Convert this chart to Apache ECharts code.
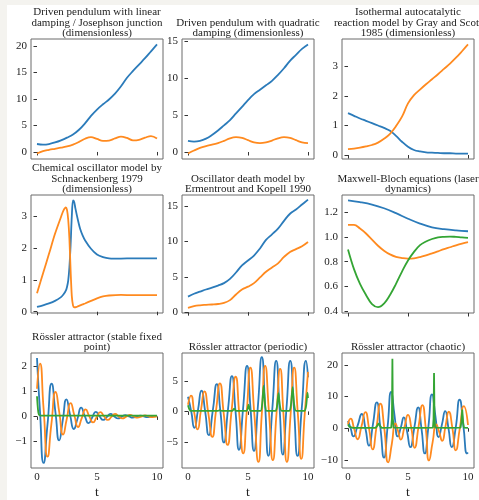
<!DOCTYPE html>
<html><head><meta charset="utf-8">
<script src="https://cdn.jsdelivr.net/npm/echarts@6/dist/echarts.min.js"></script>
<style>html,body{margin:0;padding:0;background:#fff}#c{width:479px;height:500px}</style>
</head><body><div id="c"></div>
<script>
// ---------- data ----------
const t05 = [0,0.5,1,1.5,2,2.5,3,3.5,4,4.5,5,5.5,6,6.5,7,7.5,8,8.5,9,9.5,10];
const t1 = [0,1,2,3,4,5,6,7,8,9,10];
const xTicks = [0,5,10];

// 1 Driven pendulum linear damping
const p1_blue = [1.5,1.4,1.5,1.8,2.2,2.7,3.3,4.2,5.4,6.8,8.0,9.0,9.9,11.0,12.4,14.0,15.3,16.5,17.7,19.0,20.3];
const p1_orange = [-0.3,0.15,0.4,0.6,0.8,1.05,1.4,1.9,2.5,2.8,2.45,2.1,2.15,2.55,2.9,2.65,2.2,2.3,2.7,3.0,2.55];
const p1_yticks = [0,5,10,15,20];
// 2 Driven pendulum quadratic damping
const p2_blue = [1.5,1.4,1.5,1.8,2.3,2.9,3.6,4.3,5.2,6.1,7.0,7.8,8.4,9.0,9.6,10.4,11.3,12.3,13.1,13.9,14.5];
const p2_orange = [-0.2,0.2,0.55,0.8,1.0,1.2,1.5,1.85,2.0,1.9,1.6,1.3,1.2,1.3,1.55,1.85,2.0,1.9,1.6,1.3,1.2];
const p2_yticks = [0,5,10,15];
// 3 Gray-Scott
const p3_blue = [1.42,1.33,1.24,1.16,1.08,1.0,0.92,0.82,0.65,0.45,0.28,0.17,0.12,0.09,0.08,0.07,0.06,0.06,0.05,0.05,0.05];
const p3_orange = [0.2,0.22,0.25,0.29,0.34,0.42,0.55,0.72,0.98,1.3,1.75,2.03,2.22,2.4,2.57,2.74,2.92,3.1,3.3,3.52,3.75];
const p3_yticks = [0,1,2,3];
// 4 Schnackenberg
const p4_t = [0,0.5,1,1.5,2,2.2,2.4,2.5,2.6,2.7,2.8,2.9,3.0,3.1,3.2,3.4,3.6,3.8,4,4.5,5,5.5,6,7,8,9,10];
const p4_blue = [0.15,0.2,0.26,0.34,0.46,0.54,0.66,0.78,0.98,1.4,2.1,3.0,3.5,3.45,3.25,2.9,2.6,2.4,2.25,1.98,1.8,1.72,1.68,1.67,1.68,1.68,1.68];
const p4_orange = [0.58,1.2,1.82,2.45,2.98,3.18,3.28,3.2,2.9,2.3,1.3,0.5,0.2,0.14,0.14,0.17,0.2,0.23,0.26,0.34,0.42,0.48,0.51,0.53,0.52,0.52,0.52];
const p4_yticks = [0,1,2,3];
// 5 Oscillator death
const p5_blue = [2.2,2.6,2.9,3.2,3.45,3.75,4.1,4.7,5.6,6.6,7.3,8.0,9.0,10.2,11.0,11.8,12.9,13.9,14.5,15.2,15.9];
const p5_orange = [0.6,0.85,0.97,1.03,1.08,1.15,1.3,1.7,2.5,3.2,3.6,4.1,4.9,5.7,6.3,6.9,7.8,8.5,8.9,9.3,9.9];
const p5_yticks = [0,5,10,15];
// 6 Maxwell-Bloch
const p6_blue = [1.30,1.285,1.265,1.235,1.195,1.15,1.11,1.08,1.065,1.055,1.048];
const p6_orange = [1.10,1.10,1.07,1.03,0.98,0.93,0.89,0.86,0.84,0.83,0.825,0.828,0.838,0.852,0.868,0.885,0.902,0.918,0.934,0.948,0.96];
const p6_green = [0.90,0.74,0.62,0.53,0.455,0.43,0.46,0.53,0.62,0.72,0.81,0.88,0.935,0.965,0.985,0.998,1.003,1.005,1.002,0.998,0.995];
const p6_yticks = [0.4,0.6,0.8,1.0,1.2];
// 7 Rossler stable
const p7_tb = [0,0.25,0.55,0.88,1.22,1.54,1.85,2.15,2.45,2.76,3.07,3.38,3.68,3.99,4.3,4.6,4.9,5.21,5.52,5.83,6.13,6.44,6.75,7.06,7.36,7.67,7.98,8.29,8.6,8.9,9.2,9.51,9.82,10];
const p7_blue = [2.32,0.2,-1.85,-0.3,1.3,0.15,-0.95,-0.15,0.68,0.05,-0.5,-0.08,0.35,0.0,-0.27,-0.04,0.18,0,-0.14,-0.02,0.1,0,-0.08,-0.01,0.05,0,-0.05,-0.01,0.03,0,-0.03,0,0.02,0.01];
const p7_to = [0,0.25,0.55,0.88,1.2,1.55,1.86,2.17,2.48,2.8,3.11,3.42,3.73,4.05,4.36,4.67,4.97,5.28,5.59,5.9,6.2,6.5,6.81,7.12,7.43,7.75,8.06,8.37,8.68,9.0,9.3,9.6,10];
const p7_orange = [1.1,2.1,0.3,-1.6,-0.3,0.97,0.15,-0.72,-0.1,0.53,0.05,-0.42,-0.07,0.28,0.0,-0.24,-0.03,0.17,0,-0.14,-0.02,0.1,0,-0.08,-0.01,0.06,0,-0.05,-0.01,0.04,0,-0.03,0.0];
const p7_tg = [0,0.05,0.1,0.15,0.2,0.3,0.5,10];
const p7_green = [0.8,0.45,0.2,0.09,0.05,0.03,0.03,0.03];
const p7_yticks = [-1,0,1,2];
// 8 Rossler periodic
const p8_tb = [0,0.27,0.53,0.83,1.12,1.43,1.73,2.07,2.4,2.7,2.99,3.33,3.66,3.96,4.25,4.59,4.92,5.21,5.5,5.83,6.15,6.43,6.7,7.03,7.35,7.63,7.9,8.21,8.52,8.83,9.13,9.48,9.83,10];
const p8_blue = [2.4,0,-2.7,0.2,3.4,0,-3.9,0.2,4.5,0,-5.1,0.3,5.8,0,-6.3,0.5,7.5,0.5,-6.5,1.0,8.9,0.8,-7.3,0.5,8.3,0.6,-7.1,0.6,8.3,0.5,-7.3,0.5,8.3,5.6];
const p8_to = [0,0.25,0.52,0.8,1.08,1.37,1.7,2.02,2.34,2.66,2.98,3.3,3.63,3.97,4.28,4.6,4.9,5.2,5.53,5.87,6.15,6.43,6.75,7.07,7.37,7.68,7.96,8.24,8.55,8.85,9.15,9.44,9.72,10];
const p8_orange = [1.1,2.6,-0.2,-2.95,0.2,3.3,-0.4,-4.2,0.2,4.6,-0.4,-5.5,0.1,5.7,-0.6,-6.9,0.1,7.2,-0.5,-8.3,-0.4,7.5,-0.2,-8.0,-0.5,7.0,-0.6,-8.3,-0.5,7.2,-0.3,-7.8,-0.6,6.5];
const p8_tg = [0,0.08,0.18,0.3,2.5,2.65,2.8,3.7,3.85,4.0,4.9,5.05,5.2,6.05,6.18,6.3,6.42,6.55,7.3,7.42,7.54,7.66,7.8,8.45,8.58,8.72,8.85,9.0,9.72,9.85,9.96,10];
const p8_green = [1.0,0.5,0.15,0.08,0.08,0.2,0.08,0.1,0.45,0.1,0.1,1.1,0.1,0.1,1.2,4.2,1.2,0.1,0.1,0.9,3.0,0.9,0.1,0.1,1.1,4.0,1.1,0.1,0.1,1.0,3.1,2.2];
const p8_yticks = [-5,0,5];
// 9 Rossler chaotic
const p9_tb = [0,0.22,0.45,0.8,1.15,1.45,1.75,2.07,2.4,2.7,3.0,3.3,3.6,3.88,4.15,4.4,4.65,4.92,5.2,5.52,5.85,6.12,6.4,6.7,7.0,7.28,7.55,7.82,8.1,8.37,8.65,8.97,9.3,9.62,9.92,10];
const p9_blue = [2.3,0,-2.6,0.8,4.5,0,-5.5,1.0,8.2,0,-9.3,0.5,11.5,4.0,-2.6,0.2,3.4,-1.0,-6.0,0,6.6,0,-8.0,0.5,10.7,4.0,-2.8,1.0,5.4,0,-6.0,0,9.0,0.5,-8.0,-7.7];
const p9_to = [0,0.22,0.5,0.8,1.12,1.45,1.75,2.05,2.38,2.7,3.02,3.35,3.65,3.95,4.18,4.4,4.7,5.0,5.28,5.55,5.88,6.2,6.48,6.75,7.05,7.35,7.6,7.85,8.12,8.4,8.7,8.98,9.32,9.65,10];
const p9_orange = [1.2,3.0,0,-3.5,0.5,5.1,0,-6.7,0.5,7.8,0,-10.8,-5.0,1.5,-1.0,-3.6,0.3,4.2,0,-6.2,0.5,7.3,0,-10.2,-4.5,1.2,-1.2,-4.0,0.5,5.2,0,-7.0,0,7.0,1.0];
const p9_tg = [0,0.1,0.25,0.4,2.3,2.45,2.55,2.65,2.8,3.6,3.66,3.7,3.74,3.8,5.85,6.0,6.15,7.08,7.13,7.17,7.21,7.26,8.15,8.25,8.35,9.38,9.45,9.52,9.59,9.66,10];
const p9_green = [1.2,0.5,0.15,0.08,0.1,0.8,1.6,0.8,0.1,0.2,3.0,22.0,3.0,0.2,0.1,0.5,0.1,0.2,3.0,17.5,3.0,0.2,0.08,0.4,0.08,0.2,2.0,5.9,2.0,0.2,0.08];
const p9_yticks = [-10,0,10,20];

const titles = [
  'Driven pendulum with linear\ndamping / Josephson junction\n(dimensionless)',
  'Driven pendulum with quadratic\ndamping (dimensionless)',
  'Isothermal autocatalytic\nreaction model by Gray and Scott\n1985 (dimensionless)',
  'Chemical oscillator model by\nSchnackenberg 1979\n(dimensionless)',
  'Oscillator death model by\nErmentrout and Kopell 1990',
  'Maxwell-Bloch equations (laser\ndynamics)',
  'Rössler attractor (stable fixed\npoint)',
  'Rössler attractor (periodic)',
  'Rössler attractor (chaotic)'
];

// ---------- build ----------
const FONT = 'Liberation Serif';
const COL = ['#2b7bba', '#ff8a1f', '#34a534'];
const lefts = [31, 182, 342], W = 132;
const tops = [39, 195, 353], heights = [120, 118, 119];
const titleBottoms = [39, 195, 353];
const zip = (t, y) => t.map((v, i) => [v, y[i]]);
const minusFmt = v => v < 0 ? '\u2212' + (-v) : String(v);

const panels = [
  {ymin:-1.33, ymax:21.33, yt:p1_yticks, s:[[t05,p1_blue,0.4],[t05,p1_orange,0.4]]},
  {ymin:-0.94, ymax:15.24, yt:p2_yticks, s:[[t05,p2_blue,0.4],[t05,p2_orange,0.4]]},
  {ymin:-0.135, ymax:3.935, yt:p3_yticks, s:[[t05,p3_blue,0.4],[t05,p3_orange,0.4]]},
  {ymin:-0.04, ymax:3.67, yt:p4_yticks, s:[[p4_t,p4_blue,0.3],[p4_t,p4_orange,0.3]]},
  {ymin:-0.12, ymax:16.55, yt:p5_yticks, s:[[t05,p5_blue,0.4],[t05,p5_orange,0.4]]},
  {ymin:0.383, ymax:1.343, yt:p6_yticks, fmt:v=>v.toFixed(1), s:[[t1,p6_blue,0.4],[t05,p6_orange,0.4],[t05,p6_green,0.4]]},
  {ymin:-2.05, ymax:2.52, yt:p7_yticks, s:[[p7_tb,p7_blue,0.6],[p7_to,p7_orange,0.6],[p7_tg,p7_green,0.2]]},
  {ymin:-9.3, ymax:9.6, yt:p8_yticks, s:[[p8_tb,p8_blue,0.6],[p8_to,p8_orange,0.6],[p8_tg,p8_green,0.2]]},
  {ymin:-12.6, ymax:23.8, yt:p9_yticks, s:[[p9_tb,p9_blue,0.6],[p9_to,p9_orange,0.6],[p9_tg,p9_green,0]]}
];

const grid = [], xAxis = [], yAxis = [], series = [];
const graphic = [
  {type:'rect', shape:{x:0,y:0,width:7,height:500}, style:{fill:'#f4f3ef'}, z:-10},
  {type:'rect', shape:{x:0,y:0,width:479,height:5}, style:{fill:'#f4f3ef'}, z:-10}
];
panels.forEach((p, i) => {
  const r = Math.floor(i / 3), c = i % 3;
  const bottomRow = r === 2;
  grid.push({left: lefts[c], top: tops[r], width: W, height: heights[r], show: true,
    borderColor: '#6a6a6a', borderWidth: 1, backgroundColor: 'transparent'});
  xAxis.push({type:'value', gridIndex:i, min:-0.5, max:10.5,
    axisLine:{show:false}, splitLine:{show:false},
    axisTick:{show:true, customValues:xTicks, length:3.5, lineStyle:{color:'#333', width:1}},
    axisLabel:{show:bottomRow, customValues:xTicks, fontFamily:FONT, fontSize:11, color:'#222', margin:4},
    name: bottomRow ? 't' : '', nameLocation:'middle', nameGap:17,
    nameTextStyle:{fontFamily:FONT, fontSize:13.5, color:'#222'}});
  yAxis.push({type:'value', gridIndex:i, min:p.ymin, max:p.ymax,
    axisLine:{show:false}, splitLine:{show:false},
    axisTick:{show:true, customValues:p.yt, length:3.5, lineStyle:{color:'#333', width:1}},
    axisLabel:{show:true, customValues:p.yt, fontFamily:FONT, fontSize:11, color:'#222', margin:4,
      formatter: p.fmt || minusFmt}});
  p.s.forEach((s, k) => {
    series.push({type:'line', xAxisIndex:i, yAxisIndex:i, data:zip(s[0], s[1]),
      showSymbol:false, smooth:s[2], lineStyle:{width:1.8, color:COL[k]}, itemStyle:{color:COL[k]},
      z: 2 + k, clip:true});
  });
  graphic.push({type:'text', x: lefts[c] + W / 2, y: titleBottoms[r],
    style:{text: titles[i], align:'center', verticalAlign:'bottom', fontFamily:FONT, fontSize:11,
      lineHeight:10.8, fill:'#222'}});
});

const chart = echarts.init(document.getElementById('c'), null, {renderer:'canvas'});
chart.setOption({animation:false, backgroundColor:'#fff', grid, xAxis, yAxis, series, graphic});
</script></body></html>
